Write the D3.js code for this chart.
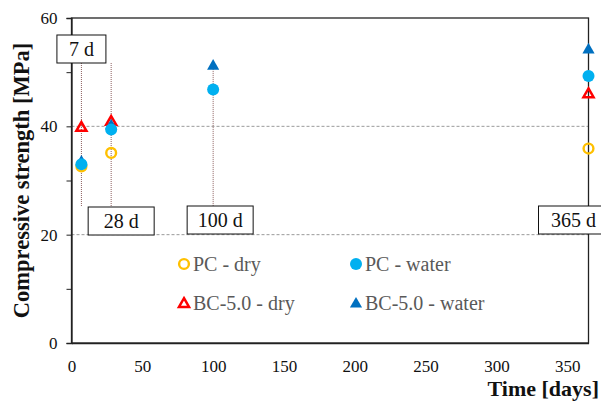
<!DOCTYPE html>
<html><head><meta charset="utf-8">
<script src="https://cdn.jsdelivr.net/npm/d3@7"></script>
<style>body{margin:0;background:#fff}svg{display:block}</style>
</head><body>
<svg id="c" width="601" height="405"></svg>
<script>
const pcDryDays = [7, 28, 365];
const pcDry = [32.6, 35.1, 35.9];
const pcWaterDays = [7, 28, 100, 365];
const pcWater = [33.0, 39.4, 46.8, 49.3];
const bcDryDays = [7, 28, 365];
const bcDry = [39.9, 41.0, 46.1];
const bcWaterDays = [7, 28, 100, 365];
const bcWater = [33.6, 40.3, 51.3, 54.3];
const yTicks = [0, 20, 40, 60];
const yMinor = [10, 30, 50];
const xTicks = [0, 50, 100, 150, 200, 250, 300, 350];
const ageLabels = ["7 d", "28 d", "100 d", "365 d"];
const ageDays = [7, 28, 100, 365];

const svg = d3.select("#c");
const m = {l: 71.5, r: 588.5, t: 18, b: 343};
const x = d3.scaleLinear().domain([0, 365]).range([m.l, m.r]);
const y = d3.scaleLinear().domain([0, 60]).range([m.b, m.t]);
const FF = '"Liberation Serif"';

// gridlines
svg.append("g").selectAll("line").data([20, 40]).join("line")
  .attr("x1", m.l).attr("x2", m.r).attr("y1", d => y(d)).attr("y2", d => y(d))
  .attr("stroke", "#9a9a9a").attr("stroke-width", 1).attr("stroke-dasharray", "3,2");

// frame
svg.append("rect").attr("x", m.l).attr("y", m.t).attr("width", m.r - m.l).attr("height", m.b - m.t)
  .attr("fill", "none").attr("stroke", "#222").attr("stroke-width", 1.3);

// y axis
const yAxis = d3.axisLeft(y).tickValues(yTicks).tickSize(5).tickPadding(9).tickFormat(d3.format("d"));
const gy = svg.append("g").attr("transform", `translate(${m.l},0)`).call(yAxis);
gy.select(".domain").attr("stroke", "#222").attr("stroke-width", 1.3);
gy.selectAll(".tick line").attr("stroke", "#222");
gy.selectAll("text").style("font-family", FF).attr("font-size", 17).attr("fill", "#111");
const gym = svg.append("g").attr("transform", `translate(${m.l},0)`)
  .call(d3.axisLeft(y).tickValues(yMinor).tickSize(5).tickFormat(""));
gym.select(".domain").remove();
gym.selectAll(".tick line").attr("stroke", "#222");

// x axis
const xAxis = d3.axisBottom(x).tickValues(xTicks).tickSize(0).tickPadding(17);
const gx = svg.append("g").attr("transform", `translate(0,${m.b})`).call(xAxis);
gx.select(".domain").attr("stroke", "#222").attr("stroke-width", 1.3);
gx.selectAll("text").style("font-family", FF).attr("font-size", 17).attr("fill", "#111");

// axis titles
svg.append("text").attr("x", 599).attr("y", 396).attr("text-anchor", "end")
  .style("font-family", FF).attr("font-weight", "bold").attr("font-size", 22).attr("fill", "#111")
  .text("Time [days]");
svg.append("text").attr("transform", `translate(29,${(m.t + m.b) / 2}) rotate(-90)`)
  .attr("text-anchor", "middle").style("font-family", FF).attr("font-weight", "bold")
  .attr("font-size", 22.5).attr("fill", "#111").text("Compressive strength [MPa]");

// vertical dotted guide lines
const guideTop = [63, 63, y(51.3), null];
const guides = svg.append("g");
ageDays.forEach((d, i) => {
  if (guideTop[i] === null) return;
  guides.append("line").attr("x1", x(d)).attr("x2", x(d)).attr("y1", guideTop[i]).attr("y2", 207)
    .attr("stroke", "#8c5f5f").attr("stroke-width", 1).attr("stroke-dasharray", "1,1");
});

// label boxes
const boxes = [
  {cx: x(7), y: 35, w: 49},
  {cx: x(28) + 10, y: 207, w: 66},
  {cx: x(100) + 7, y: 206, w: 66},
  {cx: x(365) - 15, y: 206, w: 70}
];
boxes.forEach((b, i) => {
  const g = svg.append("g");
  g.append("rect").attr("x", b.cx - b.w / 2).attr("y", b.y).attr("width", b.w).attr("height", 28)
    .attr("fill", "#fff").attr("stroke", "#111").attr("stroke-width", 1);
  g.append("text").attr("x", b.cx).attr("y", b.y + 21).attr("text-anchor", "middle")
    .style("font-family", FF).attr("font-size", 20).attr("fill", "#111").text(ageLabels[i]);
});

// markers
const tri = d3.symbol().type(d3.symbolTriangle).size(64);
const triOpen = d3.symbol().type(d3.symbolTriangle).size(44);
function circles(days, vals, open) {
  svg.append("g").selectAll("circle").data(days).join("circle")
    .attr("cx", d => x(d)).attr("cy", (d, i) => y(vals[i]))
    .attr("r", open ? 4.9 : 6)
    .attr("fill", open ? "none" : "#00b0f0")
    .attr("stroke", open ? "#ffc000" : "none").attr("stroke-width", open ? 2.4 : 0);
}
function triangles(days, vals, open) {
  svg.append("g").selectAll("path").data(days).join("path")
    .attr("transform", (d, i) => `translate(${x(d)},${y(vals[i]) + 1})`)
    .attr("d", open ? triOpen : tri)
    .attr("fill", open ? "none" : "#0070c0")
    .attr("stroke", open ? "#ff0000" : "none").attr("stroke-width", open ? 2.5 : 0);
}
circles(pcDryDays, pcDry, true);
triangles(bcDryDays, bcDry, true);
triangles(bcWaterDays, bcWater, false);
circles(pcWaterDays, pcWater, false);

// legend
const leg = svg.append("g");
const legItems = [
  {x: 184, y: 264, label: "PC - dry", kind: "oc"},
  {x: 356, y: 264, label: "PC - water", kind: "fc"},
  {x: 184, y: 303, label: "BC-5.0 - dry", kind: "ot"},
  {x: 356, y: 303, label: "BC-5.0 - water", kind: "ft"}
];
legItems.forEach(it => {
  if (it.kind === "oc") leg.append("circle").attr("cx", it.x).attr("cy", it.y).attr("r", 4.9)
    .attr("fill", "none").attr("stroke", "#ffc000").attr("stroke-width", 2.4);
  if (it.kind === "fc") leg.append("circle").attr("cx", it.x).attr("cy", it.y).attr("r", 6).attr("fill", "#00b0f0");
  if (it.kind === "ot") leg.append("path").attr("transform", `translate(${it.x},${it.y + 1})`).attr("d", triOpen)
    .attr("fill", "none").attr("stroke", "#ff0000").attr("stroke-width", 2.5);
  if (it.kind === "ft") leg.append("path").attr("transform", `translate(${it.x},${it.y + 1})`).attr("d", tri)
    .attr("fill", "#0070c0");
  leg.append("text").attr("x", it.x + 9).attr("y", it.y + 7).style("font-family", FF)
    .attr("font-size", 20).attr("fill", "#595959").text(it.label);
});
</script>
</body></html>
